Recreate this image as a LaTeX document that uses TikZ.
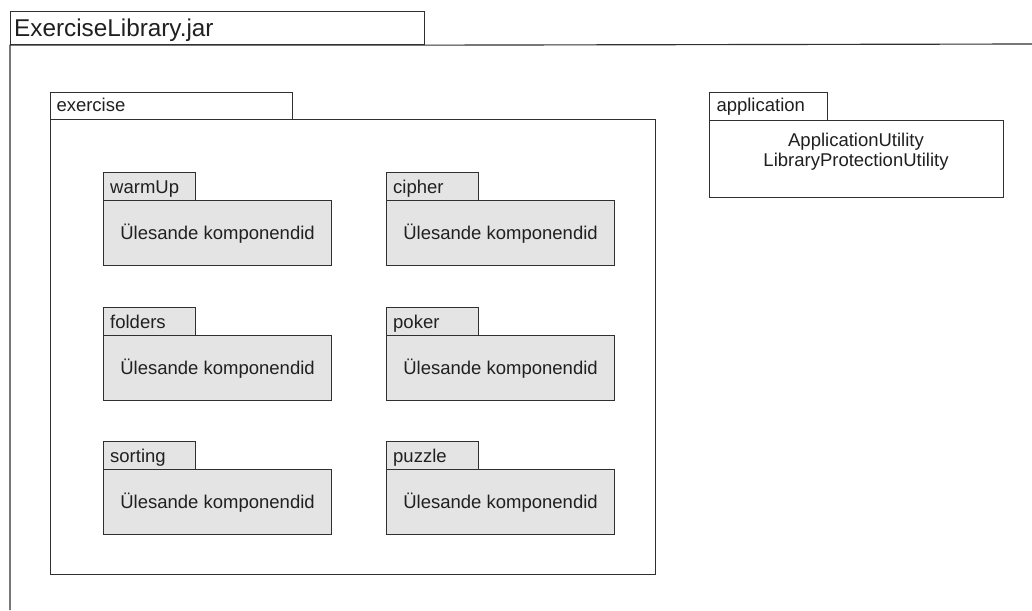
\documentclass[tikz,border=0pt]{standalone}
\usepackage{fontspec}
\setmainfont{Liberation Sans}
\definecolor{pkggray}{HTML}{E4E4E4}
\definecolor{linec}{HTML}{303030}
\definecolor{textc}{HTML}{202020}
\tikzset{
  pkg/.style={draw=linec, line width=1.15pt, inner sep=0pt, anchor=north west, fill=white},
  gpkg/.style={pkg, fill=pkggray},
  lbl/.style={inner sep=0pt, anchor=base west, text=textc, font=\fontsize{18.5}{21}\selectfont},
  bodytxt/.style={inner sep=0pt, anchor=base, text=textc, font=\fontsize{18.5}{21}\selectfont},
  titletxt/.style={inner sep=0pt, anchor=base west, text=textc, font=\fontsize{24.3}{28}\selectfont},
}
% grey package: #1 name, #2 x, #3 y (tab top), #4 label
\newcommand\greypack[4]{%
  \node[gpkg, minimum width=228pt, minimum height=65pt] (#1body) at ({#2},{#3+28}) {};
  \node[gpkg, minimum width=92pt, minimum height=28pt] (#1tab) at ({#2},{#3}) {};
  \node[lbl] (#1lbl) at ({#2+7},{#3+21}) {#4};
  \node[bodytxt] (#1txt) at ([yshift=-6.5pt]#1body.center) {Ülesande komponendid};
}
\begin{document}
\begin{tikzpicture}[x=1pt,y=-1pt]
\useasboundingbox[fill=white] (0,0) rectangle (1032,610);
% outer ExerciseLibrary.jar package
\node[pkg, minimum width=414pt, minimum height=33pt] (jartab) at (10,11) {};
\coordinate (jarbl) at (10,610);
\coordinate (jartr) at (1032,44);
\draw[draw=linec, line width=1.15pt] (jarbl) -- (jartab.south west) -- (jartab.south east) -- (jartr);
\node[titletxt] (jarlbl) at (14,36.7) {ExerciseLibrary.jar};
% exercise package
\node[pkg, minimum width=605pt, minimum height=455pt] (exbody) at (50,119) {};
\node[pkg, minimum width=242pt, minimum height=27pt] (extab) at (50,92) {};
\node[lbl] (exlbl) at (56.3,111.7) {exercise};
% sub packages
\greypack{warm}{103}{172}{warmUp}
\greypack{ciph}{386}{172}{cipher}
\greypack{fold}{103}{307}{folders}
\greypack{poke}{386}{307}{poker}
\greypack{sort}{103}{441}{sorting}
\greypack{puzz}{386}{441}{puzzle}
% application package
\node[pkg, minimum width=294pt, minimum height=77pt] (appbody) at (709,120) {};
\node[pkg, minimum width=118pt, minimum height=28pt] (apptab) at (709,92) {};
\node[lbl] (applbl) at (716.3,111.7) {application};
\node[bodytxt] (appl1) at (856,146.7) {ApplicationUtility};
\node[bodytxt] (appl2) at (856,166.7) {LibraryProtectionUtility};
\end{tikzpicture}
\end{document}
